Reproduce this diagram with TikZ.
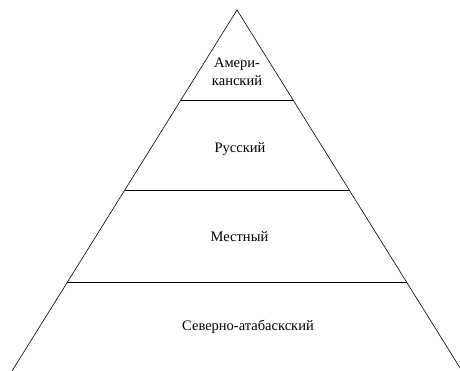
\documentclass[tikz,border=0pt]{standalone}
\usepackage{fontspec}
\setmainfont{Liberation Serif}
\usepackage{tikz}
\usetikzlibrary{calc}

\begin{document}
\begin{tikzpicture}[x=1pt,y=-1pt,semithick]
\tikzstyle{level}=[text=black,font=\fontsize{14.5}{17.5}\selectfont,align=center]
\useasboundingbox (0,0) rectangle (460,371);
\coordinate (top) at (237,10);
\coordinate (BL) at (12,371);
\coordinate (BR) at (462,371);
\draw (BL)--(top)--(BR);
\draw ($(top)!0.25!(BL)$)--($(top)!0.25!(BR)$);
\draw ($(top)!0.5!(BL)$)--($(top)!0.5!(BR)$);
\draw ($(top)!0.754!(BL)$)--($(top)!0.754!(BR)$);
\node[level] (AM) at (237,72) {Амери-\\канский};
\node[level] (RU) at (240,149) {Русский};
\node[level] (ME) at (239.5,237) {Местный};
\node[level] (SA) at (248,327) {Северно-атабаскский};
\end{tikzpicture}
\end{document}
